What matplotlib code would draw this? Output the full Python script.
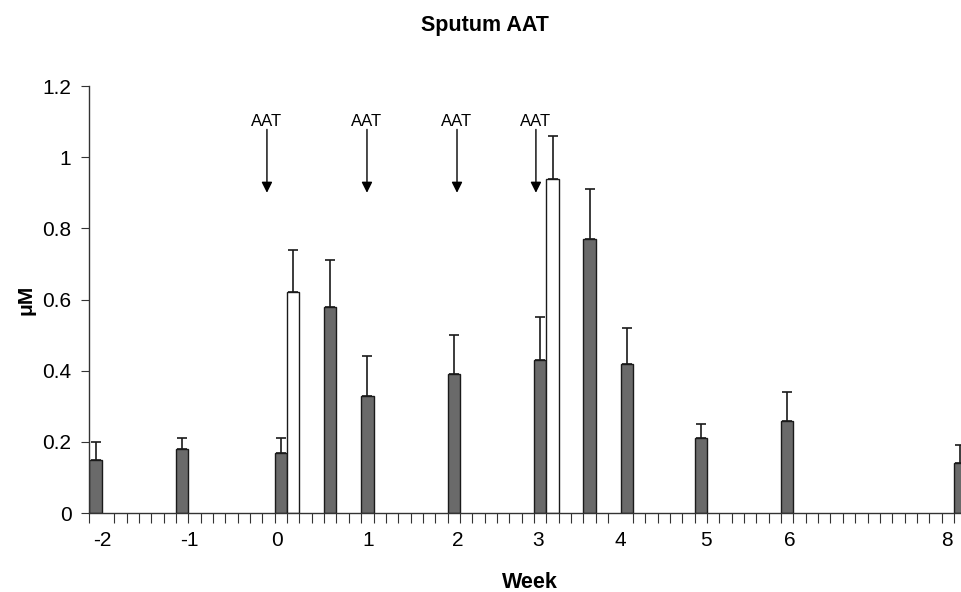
import matplotlib

matplotlib.use("Agg")
import matplotlib.pyplot as plt
import numpy as np
from matplotlib.ticker import FuncFormatter

plt.rcParams["font.family"] = ["Liberation Sans", "DejaVu Sans"]

# sampling day (one slot per day, week -2 = slot 0)
day_slot = [0, 7, 15, 16, 19, 22, 29, 36, 37, 40, 43, 49, 56, 70]
aat_um = [0.15, 0.18, 0.17, 0.62, 0.58, 0.33, 0.39, 0.43, 0.94, 0.77, 0.42, 0.21, 0.26, 0.14]
err_top = [0.20, 0.21, 0.21, 0.74, 0.71, 0.44, 0.50, 0.55, 1.06, 0.91, 0.52, 0.25, 0.34, 0.19]
open_bar = [False, False, False, True, False, False, False, False, True, False, False, False, False, False]

week_labels = ["-2", "-1", "0", "1", "2", "3", "4", "5", "6", "8"]
week_pos = [1.0, 8.05, 15.2, 22.55, 29.8, 36.3, 43.0, 49.9, 56.7, 69.4]

dose_slot = [14.37, 22.47, 29.76, 36.15]

fig = plt.figure(figsize=(9.62, 5.92), dpi=100)
ax = fig.add_axes([0.093, 0.1334, 0.907, 0.7213])

x = np.array(day_slot, dtype=float)
y = np.array(aat_um)
err = np.array(err_top) - y
colors = ["white" if o else "#6a6a6a" for o in open_bar]

ax.bar(x, y, width=1.0, align="edge", color=colors, edgecolor="#1a1a1a", linewidth=1.0, zorder=2)
ax.errorbar(x + 0.5, y, yerr=[np.zeros_like(err), err], fmt="none", ecolor="#1a1a1a",
            elinewidth=1.2, capsize=3.5, capthick=1.2, zorder=3)

for xs in dose_slot:
    ax.annotate("", xy=(xs, 0.9), xytext=(xs, 1.078),
                arrowprops=dict(arrowstyle="-|>", color="black", lw=1.0, mutation_scale=16,
                                shrinkA=0, shrinkB=0))
    ax.text(xs, 1.1, "AAT", ha="center", va="center", fontsize=12)

ax.set_xlim(0, 70.65)
ax.set_ylim(0, 1.2)
ax.set_yticks(np.arange(0, 1.21, 0.2))
ax.yaxis.set_major_formatter(FuncFormatter(lambda v, p: f"{v:g}"))
ax.set_xticks(week_pos, week_labels)
ax.set_xticks(np.arange(0, 71), minor=True)
ax.tick_params(axis="x", which="major", length=0, pad=13, labelsize=15)
ax.tick_params(axis="x", which="minor", length=7, width=0.8, direction="out", color="#333333")
ax.tick_params(axis="y", length=6, width=0.8, direction="out", pad=7, labelsize=15, color="#333333")

for side in ("top", "right"):
    ax.spines[side].set_visible(False)
for side in ("left", "bottom"):
    ax.spines[side].set_linewidth(1.0)
    ax.spines[side].set_color("#333333")

fig.text(485 / 962, 1 - 25 / 592, "Sputum AAT", ha="center", va="center", fontsize=15.5, fontweight="bold")
fig.text(530 / 962, 1 - 582 / 592, "Week", ha="center", va="center", fontsize=15.5, fontweight="bold")
fig.text(26 / 962, 1 - 300 / 592, "\u03bcM", ha="center", va="center", rotation=90, fontsize=15,
         fontweight="bold")

fig.savefig("out.png", dpi=100)
